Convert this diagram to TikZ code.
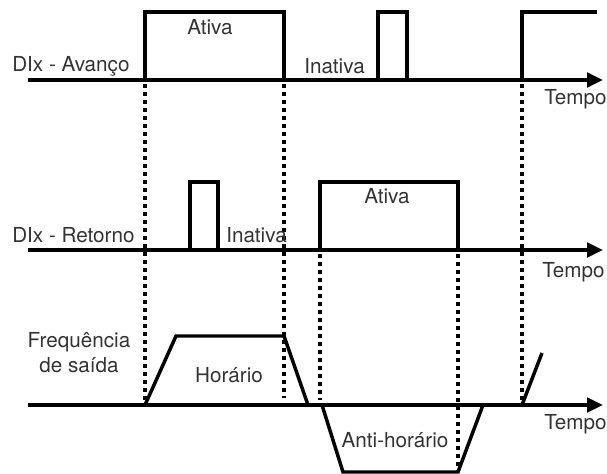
\documentclass[tikz,border=0pt]{standalone}
\usepackage{fontspec}
\setmainfont{TeX Gyre Heros}
\usetikzlibrary{arrows.meta}

\tikzset{
  signal/.style={line width=2.6pt, line join=miter},
  axis/.style={line width=2.6pt, -{Triangle[length=12pt,width=11pt]}},
  marker/.style={line width=2.4pt, dash pattern=on 3pt off 3pt},
  lbl/.style={font=\fontsize{15.5}{18.5}\selectfont, text=black!80, inner sep=0pt},
}

\begin{document}
\begin{tikzpicture}[x=0.75pt, y=-0.75pt]
\useasboundingbox (0,0) rectangle (607,474);

% Switching instants
\foreach \t/\ya/\yb in {145/84/405, 284/84/398, 320/254/400, 458/254/472, 522/84/407}
  \draw[marker] (\t,\ya) -- (\t,\yb);

% DIx - Avanco
\draw[axis] (28,80) -- (603,80);
\draw[signal] (145,80) -- (145,12) -- (284,12) -- (284,80);
\draw[signal] (378,80) -- (378,12) -- (407,12) -- (407,80);
\draw[signal] (522,80) -- (522,12) -- (597,12);
\node[lbl, anchor=base west] (avanco) at (12,72) {DIx - Avanço};
\node[lbl, anchor=base] (ativaA) at (210,35) {Ativa};
\node[lbl, anchor=base west] (inativaA) at (304,74) {Inativa};
\node[lbl, anchor=base west] (tempoA) at (544,105) {Tempo};

% DIx - Retorno
\draw[axis] (28,250) -- (603,250);
\draw[signal] (190,250) -- (190,182) -- (218,182) -- (218,250);
\draw[signal] (320,250) -- (320,182) -- (458,182) -- (458,250);
\node[lbl, anchor=base west] (retorno) at (12,243) {DIx - Retorno};
\node[lbl, anchor=base west] (inativaR) at (226,243) {Inativa};
\node[lbl, anchor=base] (ativaR) at (387,204) {Ativa};
\node[lbl, anchor=base west] (tempoR) at (542,277) {Tempo};

% Frequencia de saida
\draw[axis] (28,405) -- (603,405);
\draw[signal] (145,405) -- (176,336) -- (284,336) -- (308,405);
\draw[signal] (322,405) -- (343,472) -- (458,472) -- (483,405);
\draw[signal] (522,405) -- (542,353);
\node[lbl, align=center, anchor=base] (freq) at (79,372) {Frequência\\de saída};
\node[lbl, anchor=base] (horario) at (229,382) {Horário};
\node[lbl, anchor=base] (antihorario) at (395,447) {Anti-horário};
\node[lbl, anchor=base west] (tempoF) at (544,429) {Tempo};
\end{tikzpicture}
\end{document}
